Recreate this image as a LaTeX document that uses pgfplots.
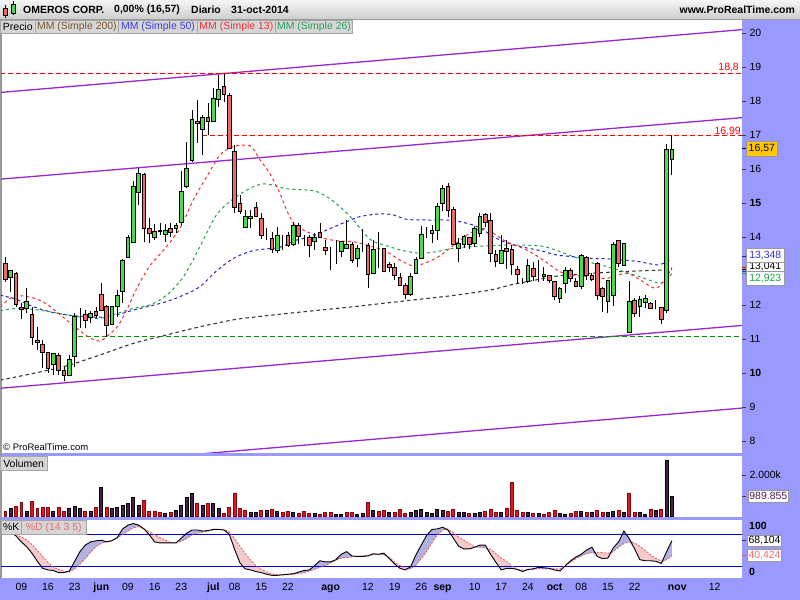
\documentclass[border=0pt]{standalone}
\usepackage{fontspec}
\setmainfont{Liberation Sans}
\usepackage{pgfplots}
\pgfplotsset{compat=1.18}
\usepackage{pgfplotstable}
\usepgfplotslibrary{fillbetween}

\newcommand{\fs}[1]{\fontsize{#1}{#1}\selectfont}

\definecolor{lav}{RGB}{153,153,255}
\definecolor{chan}{RGB}{150,40,205}
\definecolor{upc}{RGB}{76,217,76}
\definecolor{dnc}{RGB}{232,106,106}
\definecolor{ma200}{RGB}{55,55,55}
\definecolor{ma50}{RGB}{30,30,220}
\definecolor{ma13}{RGB}{250,40,40}
\definecolor{ma26}{RGB}{30,160,70}
\definecolor{vred}{RGB}{230,20,30}
\definecolor{vdark}{RGB}{72,30,78}
\definecolor{kfill}{RGB}{178,178,226}
\definecolor{dfill}{RGB}{245,202,202}
\definecolor{dline}{RGB}{225,90,90}
\definecolor{tabgray}{RGB}{214,214,214}
\definecolor{tickc}{RGB}{60,60,110}
\definecolor{hred}{RGB}{255,0,0}
\definecolor{hgreen}{RGB}{0,150,0}

% daily candles: index 0 = 9 May 2014, 122 = 31 Oct 2014
\pgfplotstableread{
i O H L C
-3 13.23 13.40 12.69 12.75
-2 12.81 13.03 12.39 13.01
-1 12.93 12.96 11.95 12.02
0 11.93 12.05 11.58 11.87
1 11.90 12.49 11.75 12.10
2 11.73 11.95 10.82 11.05
3 10.97 11.36 10.68 10.89
4 10.84 10.97 10.14 10.60
5 10.60 10.63 9.99 10.14
6 10.24 10.60 9.94 10.58
7 10.53 10.60 9.94 10.09
8 10.09 10.19 9.75 9.92
9 9.92 10.53 9.91 10.40
10 10.48 11.76 10.17 11.66
11 11.71 11.90 11.31 11.71
12 11.71 11.85 11.31 11.56
13 11.64 11.81 11.46 11.76
14 11.81 11.95 11.61 11.68
15 12.31 12.66 11.81 11.83
16 11.95 12.00 11.07 11.41
17 11.43 11.95 11.41 11.95
18 11.95 12.44 11.66 12.29
19 12.41 13.34 12.05 13.32
20 13.40 14.06 13.37 13.98
21 13.84 15.66 13.83 15.48
22 15.31 16.02 14.94 15.87
23 15.84 15.87 13.86 14.26
24 14.26 14.55 13.81 14.11
25 13.99 14.38 13.91 14.16
26 14.19 14.40 14.06 14.15
27 14.09 14.37 13.86 14.19
28 14.26 14.40 14.01 14.13
29 14.26 14.42 14.11 14.35
30 14.42 15.94 14.35 15.34
31 15.48 16.80 15.43 16.02
32 16.26 17.73 16.22 17.46
33 17.41 18.03 16.76 17.34
34 17.17 17.59 16.41 17.52
35 17.52 17.93 17.00 17.40
36 17.40 18.37 17.39 18.08
37 18.05 18.77 17.83 18.34
38 18.44 18.78 17.98 18.20
39 18.17 18.23 16.61 16.61
40 16.53 16.71 14.72 14.87
41 14.99 15.24 14.68 14.75
42 14.29 14.79 14.26 14.60
43 14.55 14.79 14.26 14.62
44 14.87 15.04 14.58 14.60
45 14.55 14.70 13.93 14.05
46 14.11 14.25 13.91 14.11
47 13.96 14.16 13.54 13.64
48 13.61 14.30 13.52 14.05
49 13.89 14.06 13.62 13.89
50 14.05 14.16 13.70 13.74
51 13.77 14.45 13.74 14.34
52 14.34 14.40 13.79 14.03
53 13.98 14.06 13.74 13.98
54 13.99 14.06 13.40 13.76
55 13.87 14.11 13.62 13.99
56 14.14 14.40 13.96 13.99
57 13.70 13.91 13.47 13.61
58 13.58 13.72 13.03 13.58
59 13.66 13.91 13.21 13.66
60 13.59 13.89 13.42 13.87
61 13.67 14.50 13.67 13.77
62 13.78 13.86 13.23 13.32
63 13.36 13.77 13.11 13.67
64 13.91 14.23 13.57 13.91
65 13.76 13.81 12.51 12.90
66 12.93 13.91 12.91 13.64
67 13.65 14.16 13.08 13.65
68 13.67 13.69 12.98 13.00
69 13.20 13.27 12.98 13.12
70 13.11 13.23 12.74 12.88
71 12.81 12.93 12.56 12.59
72 12.59 12.66 12.17 12.31
73 12.30 12.93 12.27 12.83
74 12.93 13.42 12.91 13.34
75 13.36 14.32 13.34 14.09
76 14.14 14.30 13.96 14.14
77 14.11 14.35 13.83 14.18
78 14.18 15.01 13.91 14.91
79 14.99 15.53 14.75 15.43
80 15.50 15.60 14.60 14.79
81 14.81 14.89 13.77 13.79
82 13.67 13.96 13.27 13.81
83 13.78 14.06 13.67 14.03
84 13.98 14.01 13.64 13.77
85 13.81 14.32 13.70 14.25
86 14.11 14.70 14.01 14.62
87 14.67 14.72 14.30 14.43
88 14.49 14.72 13.26 13.52
89 13.49 13.62 13.13 13.27
90 13.23 14.06 13.21 13.62
91 13.67 13.91 13.05 13.58
92 13.64 13.77 12.88 13.20
93 13.05 13.15 12.62 12.90
94 12.68 12.78 12.62 12.68
95 12.68 13.34 12.66 13.16
96 13.08 13.25 12.72 12.85
97 12.95 13.32 12.69 12.95
98 12.85 13.11 12.72 12.91
99 12.86 12.88 12.64 12.71
100 12.70 12.72 12.15 12.25
101 12.20 12.54 12.07 12.49
102 12.64 13.11 12.36 13.02
103 13.03 13.08 12.69 12.78
104 12.69 12.78 12.52 12.56
105 12.54 13.50 12.46 13.45
106 13.40 13.44 12.74 12.88
107 12.88 12.93 12.72 12.75
108 13.21 13.25 12.15 12.27
109 12.49 12.54 11.80 12.25
110 12.10 12.74 11.77 12.71
111 12.27 13.86 11.98 13.78
112 13.89 13.91 13.13 13.23
113 13.15 13.83 13.15 13.81
114 11.19 12.72 11.17 12.11
115 12.14 12.20 11.64 11.74
116 11.95 12.25 11.66 12.17
117 12.07 12.29 11.90 12.20
118 12.05 12.10 11.87 11.89
119 11.95 12.15 11.87 11.95
120 11.93 11.95 11.44 11.58
121 11.83 16.74 11.77 16.57
122 16.28 17.00 15.82 16.57
}\candles

\pgfplotstableread{
i v
-4 9.79
2 9.98
8.5 10.21
14.75 10.53
21 10.87
27.25 11.12
33.5 11.36
40 11.57
44 11.65
49.75 11.75
56 11.85
62.25 11.95
68.5 12.06
74.75 12.17
81 12.28
87.9 12.44
92 12.60
96.6 12.74
100.4 12.85
106.75 12.93
112.25 12.98
117 13.01
122 13.04
}\maA

\pgfplotstableread{
i v
-4 12.29
-1 12.17
2.25 11.95
5.4 11.80
8.5 11.71
11.6 11.66
14.75 11.64
17.9 11.71
21 11.85
24.1 11.97
27.25 12.10
30.4 12.29
33.5 12.54
36.6 13.00
39.75 13.37
43.5 13.60
48.5 13.70
51.6 13.91
54.75 14.03
57.9 14.25
61 14.45
63.5 14.60
67.25 14.68
69.75 14.65
72.25 14.52
76 14.50
79.75 14.50
82.25 14.45
84.75 14.35
86.6 14.21
88.5 14.01
91 13.83
94.1 13.70
97.25 13.60
100.4 13.47
103.5 13.42
106.75 13.37
109.75 13.36
113 13.32
116 13.27
119.25 13.18
121 13.27
122 13.35
}\maB

\pgfplotstableread{
i v
-4 11.95
-1.5 12.25
1 12.25
4 12.10
7 11.75
10.5 11.30
13 11.02
14.75 10.94
16 11.07
18 11.36
19.75 11.85
21.5 12.44
24 13.13
27.25 13.72
29.75 14.26
32.25 15.09
34.75 15.77
37.25 16.41
39.75 16.66
42.9 16.68
44.75 16.27
46.6 15.87
48.5 15.28
49.75 14.79
51.3 14.35
53.5 14.16
56 13.99
59 13.89
62.25 13.86
65.4 13.74
68.5 13.57
71 13.32
73.5 13.15
76 13.25
78.5 13.45
81 13.75
84 14.10
86.5 14.25
88 14.16
91 13.86
94.75 13.62
97.9 13.32
101 12.98
103.5 12.88
106.75 12.83
109.75 12.78
113.5 12.93
116 12.74
119 12.49
121 12.83
122 13.10
}\maC

\pgfplotstableread{
i v
-4 11.83
-0.9 11.90
2.25 11.87
5.4 11.80
8.5 11.71
11.6 11.64
14.75 11.61
17.9 11.75
21 11.90
24.1 12.00
27.25 12.29
30.4 12.83
33.5 13.72
36.6 14.65
40 15.15
43.5 15.48
46 15.56
49.75 15.42
54.75 15.36
57.25 15.19
59.75 14.89
62.25 14.50
65.4 13.93
68.5 13.74
71.6 13.60
74.75 13.52
77.9 13.57
81 13.67
84.75 13.72
91 13.76
97.25 13.74
100.5 13.60
103.5 13.42
106.75 13.25
109.75 13.13
113 12.98
116 12.83
119.75 12.64
121 12.78
122 12.92
}\maD

% volume (thousands), split by close versus previous close
\pgfplotstableread{
i v
-3 272
-1 512
0 672
2 720
3 384
4 464
5 464
7 432
8 272
12 272
14 464
16 464
23 800
24 272
25 272
26 224
28 224
33 624
35 624
38 176
39 464
40 1104
41 416
42 320
45 320
47 368
49 224
50 272
52 176
53 272
54 176
56 128
57 224
58 224
61 224
62 224
65 704
67 272
68 320
70 224
71 368
72 176
80 272
81 368
84 176
87 272
88 368
89 224
91 416
92 1664
93 320
94 224
96 176
98 128
99 224
100 320
103 176
104 272
106 224
108 320
109 224
112 320
114 1104
115 224
118 368
120 368
}\volred

\pgfplotstableread{
i v
-2 384
1 272
6 272
9 384
10 512
11 384
13 272
15 1424
17 384
18 464
19 560
20 624
21 912
22 560
27 176
29 320
30 560
31 912
32 1136
34 560
36 624
37 416
43 224
44 224
46 320
48 272
51 224
55 176
59 128
60 128
63 128
64 176
66 320
69 224
73 224
74 320
75 368
76 224
77 176
78 368
79 320
82 224
83 224
85 176
86 224
90 224
95 224
97 176
101 176
102 128
105 272
107 224
110 224
111 272
113 224
116 224
117 128
119 320
121 2720
122 990
}\voldark

% stochastic %K and %D (14 3 5)
\pgfplotstableread{
i K D
-3 88 84
-2 84 82
-1 77 79
0 66 75
1 57 70
2 45 61
3 30 50
4 17 39
5 14 28
6 13 19
7 9 15
8 9 12
9 12 10
10 30 16
11 48 25
12 60 35
13 66 47
14 68 57
15 69 63
16 66 66
17 68 69
18 74 73
19 90 80
20 97 86
21 100 92
22 97 94
23 90 90
24 79 85
25 66 79
26 64 74
27 64 69
28 64 65
29 64 64
30 73 67
31 82 72
32 88 79
33 88 82
34 86 84
35 87 86
36 89 88
37 89 89
38 88 89
39 80 85
40 52 72
41 27 58
42 16 44
43 14 32
44 11 22
45 9 15
46 6 10
47 4 7
48 4 5
49 5 5
50 6 5
51 7 6
52 10 7
53 13 9
54 14 12
55 22 15
56 31 19
57 29 22
58 29 27
59 33 32
60 43 36
61 48 37
62 40 38
63 39 39
64 39 40
65 40 41
66 44 42
67 43 42
68 45 42
69 35 37
70 25 29
71 17 22
72 14 18
73 20 16
74 42 23
75 60 35
76 78 48
77 89 64
78 90 79
79 93 88
80 88 90
81 73 83
82 58 75
83 53 69
84 53 63
85 56 57
86 60 56
87 60 55
88 43 52
89 28 44
90 14 36
91 17 30
92 17 21
93 15 15
94 11 14
95 15 14
96 16 15
97 19 17
98 18 16
99 17 16
100 14 16
101 12 16
102 22 22
103 31 28
104 38 35
105 43 40
106 51 44
107 56 46
108 39 47
109 35 46
110 36 45
111 55 48
112 66 56
113 86 63
114 72 66
115 53 64
116 33 58
117 31 50
118 31 42
119 30 35
120 26 31
121 48 33
122 68.1 40.4
}\stoch

% horizontal reference levels (18,8 / 16,99 / support)
\pgfplotstableread{
x y
-4 18.81
136 18.81
}\lvlA
\pgfplotstableread{
x y
33.9 16.985
136 16.985
}\lvlB
\pgfplotstableread{
x y
10.6 11.08
136 11.08
}\lvlC

\pgfplotsset{
  chart/.style={at={(1bp,#1)}, anchor=south west, scale only axis, width=741bp,
    xmin=-3.81, xmax=135.14, clip=true},
  rlabels/.style={tick align=outside, major tick length=4bp,
    tick style={black!75, line width=0.6bp},
    yticklabel style={font=\fs{10.5}, anchor=west, xshift=0bp}},
  lvl/.style={line width=1.4bp, solid, dash pattern=on 5bp off 3bp},
}

\begin{document}
\begin{tikzpicture}
% frame strips
\fill[lav] (742bp,0) rectangle (800bp,580bp);
\fill[lav] (0,0) rectangle (800bp,22bp);
\fill[lav] (0,144bp) rectangle (742bp,147bp);
\fill[lav] (0,80bp) rectangle (742bp,83bp);
\fill[black!40] (0,22bp) rectangle (1.5bp,580bp);

% ---------- price panel ----------
\begin{axis}[chart=147bp, height=432bp, ymin=7.647, ymax=20.353,
  axis x line=none, axis y line*=right, y axis line style={draw=none},
  ytick={8,...,20},
  yticklabels={8,9,\textbf{10},11,12,13,14,\textbf{15},16,17,18,19,20},
  rlabels]
\addplot[chan, line width=1.3bp] coordinates {(-4,18.25) (136,20.11)};
\addplot[chan, line width=1.3bp] coordinates {(-4,15.70) (136,17.52)};
\addplot[chan, line width=1.3bp] coordinates {(-4,9.55) (136,11.41)};
\addplot[chan, line width=1.3bp] coordinates {(-4,7.12) (136,8.98)};
\addplot[hred, lvl] table[x=x,y=y] {\lvlA};
\addplot[hred, lvl] table[x=x,y=y] {\lvlB};
\addplot[hgreen, lvl, line width=1bp] table[x=x,y=y] {\lvlC};
\addplot[ma200, line width=1.1bp, dash pattern=on 3.5bp off 3bp, smooth] table[x=i,y=v] {\maA};
\addplot[ma50, line width=1.0bp, dash pattern=on 3bp off 3bp, smooth] table[x=i,y=v] {\maB};
\addplot[ma26, line width=1.0bp, dash pattern=on 3bp off 3bp, smooth] table[x=i,y=v] {\maD};
\addplot[ma13, line width=1.0bp, dash pattern=on 3bp off 3bp, smooth] table[x=i,y=v] {\maC};
\addplot[draw=none, mark=none,
  error bars/.cd, y dir=plus, y explicit, error mark=none,
  error bar style={draw=black, solid, line width=0.9bp}]
  table[x=i, y=L, y error plus expr=\thisrow{H}-\thisrow{L}] {\candles};
\end{axis}

% candle bodies
\begin{axis}[chart=147bp, height=432bp, ymin=7.647, ymax=20.353, hide axis,
  ybar stacked, bar width=0.68]
\addplot[draw=none, fill=none] table[x=i, y expr={min(\thisrow{O},\thisrow{C})}] {\candles};
\addplot[fill=upc, draw=black, line width=0.8bp] table[x=i, y expr={max(\thisrow{C}-\thisrow{O},0)}] {\candles};
\addplot[fill=dnc, draw=black, line width=0.8bp] table[x=i, y expr={max(\thisrow{O}-\thisrow{C},0)}] {\candles};
\end{axis}

% ---------- volume panel ----------
\begin{axis}[chart=83.3bp, height=60.7bp, ymin=0, ymax=2911,
  axis x line=none, axis y line*=right, y axis line style={draw=none},
  ytick={2000}, yticklabels={2.000k}, rlabels, ybar, bar width=0.55]
\addplot[fill=vred, draw=vred!55!black, line width=0.7bp, bar shift=0pt] table[x=i,y=v] {\volred};
\addplot[fill=vdark, draw=black, line width=0.7bp, bar shift=0pt] table[x=i,y=v] {\voldark};
\end{axis}

% ---------- stochastic panel ----------
\begin{axis}[chart=22bp, height=58bp, ymin=-0.93, ymax=106.5,
  axis x line*=bottom, axis y line=none, x axis line style={draw=none},
  xtick={0,5,10,15,20,25,30,36,40,45,50,58,65,70,75,79,85,90,95,100,105,110,115,123,130},
  xticklabels={09,16,23,\textbf{jun},09,16,23,\textbf{jul},08,15,22,\textbf{ago},12,19,26,\textbf{sep},10,17,24,\textbf{oct},08,15,22,\textbf{nov},12},
  tick align=outside, major tick length=3bp, tick style={tickc, line width=0.6bp},
  xticklabel style={font=\fs{10.5}, anchor=base, yshift=-9bp}]
\addplot[name path=K, draw=none] table[x=i,y=K] {\stoch};
\addplot[name path=D, draw=none] table[x=i,y=D] {\stoch};
\addplot[name path=M, draw=none] table[x=i,y expr={min(\thisrow{K},\thisrow{D})}] {\stoch};
\addplot[dfill, draw=none] fill between[of=K and D];
\addplot[kfill, draw=none] fill between[of=K and M];
\addplot[blue!85!black, line width=0.9bp] coordinates {(-4,80) (136,80)};
\addplot[blue!85!black, line width=0.9bp] coordinates {(-4,20) (136,20)};
\addplot[dline, line width=0.8bp, dash pattern=on 2bp off 1.5bp] table[x=i,y=D] {\stoch};
\addplot[black, line width=0.9bp] table[x=i,y=K] {\stoch};
\end{axis}

% ---------- header ----------
\shade[top color=black!4, bottom color=black!20] (0,580bp) rectangle (800bp,600bp);
\draw[black!40, line width=0.8bp] (0,580.4bp) -- (800bp,580.4bp);
\draw[black, line width=0.5bp] (5.5bp,582bp) -- (5.5bp,595bp);
\filldraw[fill=dnc, draw=black, line width=0.5bp] (3.5bp,585bp) rectangle (7.5bp,592bp);
\draw[black, line width=0.5bp] (13.5bp,585bp) -- (13.5bp,599bp);
\filldraw[fill=upc, draw=black, line width=0.5bp] (11.5bp,587bp) rectangle (15.5bp,596bp);
\begin{scope}[every node/.style={font=\fs{10.5}\bfseries, inner sep=0pt}]
\node[anchor=west] at (23bp,590bp) {OMEROS CORP.};
\node[anchor=west] at (114bp,590bp) {0,00\% (16,57)};
\node[anchor=west] at (191bp,590bp) {Diario};
\node[anchor=west] at (231bp,590bp) {31-oct-2014};
\node[anchor=east] at (795bp,590bp) {www.ProRealTime.com};
\end{scope}

% legend tabs
\begin{scope}[every node/.style={font=\fs{10.5}, inner sep=0pt}]
\filldraw[fill=tabgray, draw=black!35, line width=0.6bp] (0.5bp,566.7bp) rectangle (35.2bp,579.3bp);
\filldraw[fill=tabgray, draw=black!35, line width=0.6bp] (35.2bp,566.7bp) rectangle (118.6bp,579.3bp);
\filldraw[fill=tabgray, draw=black!35, line width=0.6bp] (118.6bp,566.7bp) rectangle (197.5bp,579.3bp);
\filldraw[fill=tabgray, draw=black!35, line width=0.6bp] (197.5bp,566.7bp) rectangle (275.3bp,579.3bp);
\filldraw[fill=tabgray, draw=black!35, line width=0.6bp] (275.3bp,566.7bp) rectangle (352.7bp,579.3bp);
\node at (17.8bp,573bp) {Precio};
\node[text={rgb,255:red,125;green,88;blue,45}] at (76.9bp,573bp) {MM (Simple 200)};
\node[text={rgb,255:red,60;green,60;blue,225}] at (158bp,573bp) {MM (Simple 50)};
\node[text={rgb,255:red,240;green,50;blue,60}] at (236.4bp,573bp) {MM (Simple 13)};
\node[text={rgb,255:red,40;green,160;blue,90}] at (314bp,573bp) {MM (Simple 26)};
\node[anchor=east, text=hred, font=\fs{10.5}] at (739bp,532.5bp) {18,8};
\node[anchor=east, text=hred, font=\fs{10.5}] at (741bp,468.7bp) {16,99};
\node[anchor=west, font=\fs{9.5}] at (3bp,153bp) {© ProRealTime.com};
% volume and stochastic tabs
\filldraw[fill=tabgray, draw=black!35, line width=0.6bp] (0.5bp,130bp) rectangle (47bp,143.3bp);
\node at (23.7bp,136.6bp) {Volumen};
\filldraw[fill=tabgray, draw=black!35, line width=0.6bp] (1bp,65.7bp) rectangle (21.7bp,79.7bp);
\filldraw[fill=tabgray, draw=black!35, line width=0.6bp] (21.7bp,65.7bp) rectangle (86bp,79.7bp);
\node at (11.3bp,72.7bp) {\%K};
\node[text={rgb,255:red,230;green,110;blue,110}] at (53.8bp,72.7bp) {\%D (14 3 5)};
% right-hand value boxes
\filldraw[fill={rgb,255:red,255;green,200;blue,0}, draw=black!40, line width=0.5bp] (746.7bp,444bp) rectangle (777bp,458.3bp);
\node at (761.8bp,451.1bp) {16,57};
\draw[black, line width=0.8bp] (742bp,451.2bp) -- (746bp,451.2bp);
\filldraw[fill=white, draw=black!40, line width=0.5bp] (746.7bp,324.5bp) rectangle (784bp,338bp);
\node[anchor=north, yshift=0.3bp] at (765.3bp,338bp) {13,041};
\filldraw[fill=white, draw=black!40, line width=0.5bp] (746.7bp,337.7bp) rectangle (784bp,351.7bp);
\node[text={rgb,255:red,50;green,50;blue,205}] at (765.3bp,344.7bp) {13,348};
\filldraw[fill=white, draw=black!40, line width=0.5bp] (746.7bp,314.3bp) rectangle (784bp,328.3bp);
\node[text={rgb,255:red,30;green,160;blue,70}] at (765.3bp,321.3bp) {12,923};
\draw[ma50, line width=0.8bp] (742bp,344bp) -- (746bp,344bp);
\draw[red, line width=0.8bp] (742bp,333bp) -- (746bp,333bp);
\draw[black, line width=0.8bp] (742bp,330.5bp) -- (746bp,330.5bp);
\draw[ma26, line width=0.8bp] (742bp,326.3bp) -- (746bp,326.3bp);
\filldraw[fill=white, draw=black!40, line width=0.5bp] (748.3bp,97.7bp) rectangle (788.3bp,110bp);
\node[text=vdark] at (768.3bp,103.9bp) {989.855};
\draw[black!75, line width=0.6bp] (742bp,104bp) -- (746bp,104bp);
\node[anchor=west, font=\fs{10.5}\bfseries] at (749bp,74bp) {100};
\node[anchor=west, font=\fs{10.5}\bfseries] at (749bp,28bp) {0};
\filldraw[fill=white, draw=black!40, line width=0.5bp] (747.3bp,53.3bp) rectangle (781.7bp,65bp);
\node at (764.5bp,59.2bp) {68,104};
\filldraw[fill=white, draw=black!40, line width=0.5bp] (747.3bp,38.3bp) rectangle (781.7bp,50.7bp);
\node[text={rgb,255:red,230;green,110;blue,110}] at (764.5bp,44.5bp) {40,424};
\draw[black!75, line width=0.6bp] (742bp,59.2bp) -- (746bp,59.2bp);
\draw[dline, line width=0.6bp] (742bp,44.5bp) -- (746bp,44.5bp);
\end{scope}
\pgfresetboundingbox
\path[use as bounding box] (0,0) rectangle (800bp,600bp);
\end{tikzpicture}
\end{document}
